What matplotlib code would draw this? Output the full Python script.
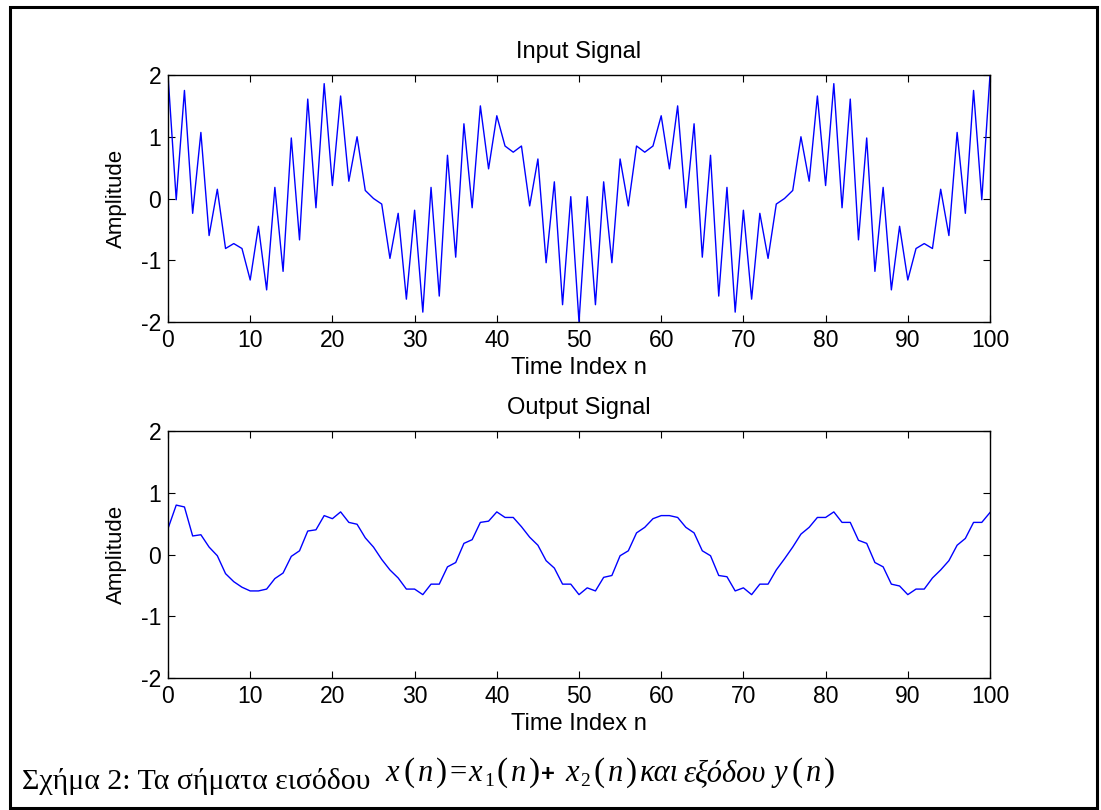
import numpy as np
import matplotlib
matplotlib.use("Agg")
import matplotlib.pyplot as plt
from matplotlib.patches import Rectangle

plt.rcParams["font.family"] = ["Liberation Sans", "DejaVu Sans"]
plt.rcParams["axes.unicode_minus"] = False

# values, n = 0..100
n = np.arange(101)
x_input = [
    2.00, -0.02, 1.75, -0.24, 1.07, -0.60, 0.15, -0.81, -0.73, -0.81,
    -1.32, -0.45, -1.48, 0.18, -1.18, 0.98, -0.67, 1.61, -0.15, 1.86,
    0.21, 1.66, 0.28, 1.00, 0.13, 0.00,
    -0.09, -0.97, -0.24, -1.63, -0.19, -1.84, 0.18, -1.58, 0.70, -0.95,
    1.21, -0.15, 1.50, 0.48, 1.34, 0.85, 0.75, 0.85, -0.12, 0.64,
    -1.04, 0.27, -1.72, 0.03, -2.00,
    0.03, -1.72, 0.27, -1.04, 0.64, -0.12, 0.85, 0.75, 0.85, 1.34,
    0.48, 1.50, -0.15, 1.21, -0.95, 0.70, -1.58, 0.18, -1.84, -0.19,
    -1.63, -0.24, -0.97, -0.09, 0.00,
    0.13, 1.00, 0.28, 1.66, 0.21, 1.86, -0.15, 1.61, -0.67, 0.98,
    -1.18, 0.18, -1.48, -0.45, -1.32, -0.81, -0.73, -0.81, 0.15, -0.60,
    1.07, -0.24, 1.75, -0.02, 2.00,
]
y_output = [
    0.42, 0.80, 0.77, 0.30, 0.32, 0.12, -0.02, -0.31, -0.44, -0.53,
    -0.59, -0.59, -0.56, -0.39, -0.30, -0.03, 0.06, 0.38, 0.40, 0.63,
    0.58, 0.69, 0.52, 0.49, 0.27, 0.12,
    -0.08, -0.25, -0.38, -0.56, -0.56, -0.65, -0.48, -0.48, -0.20, -0.13,
    0.18, 0.24, 0.52, 0.54, 0.69, 0.60, 0.60, 0.45, 0.28, 0.15,
    -0.10, -0.22, -0.48, -0.48, -0.65,
    -0.54, -0.59, -0.37, -0.34, -0.02, 0.06, 0.35, 0.44, 0.58, 0.63,
    0.63, 0.60, 0.44, 0.35, 0.06, -0.02, -0.34, -0.36, -0.59, -0.54,
    -0.65, -0.48, -0.48, -0.25, -0.07,
    0.12, 0.33, 0.44, 0.60, 0.60, 0.69, 0.52, 0.52, 0.23, 0.18,
    -0.13, -0.20, -0.48, -0.51, -0.65, -0.56, -0.56, -0.38, -0.25, -0.10,
    0.15, 0.26, 0.52, 0.52, 0.68,
]
x_ticks = [0, 10, 20, 30, 40, 50, 60, 70, 80, 90, 100]
y_ticks = [-2, -1, 0, 1, 2]

W, H = 1101, 810
fig = plt.figure(figsize=(W / 100, H / 100), dpi=100)

# outer frame
fig.patches.append(Rectangle((10 / W, 2 / H), 1087 / W, 801 / H,
                             transform=fig.transFigure, fill=False,
                             edgecolor="black", linewidth=2.2))


def panel(bottom_px, values, title):
    ax = fig.add_axes([168 / W, (H - bottom_px) / H, 822 / W, 247 / H])
    ax.plot(n, values, color="#0000ff", linewidth=1.0)
    ax.set_xlim(0, 100)
    ax.set_ylim(-2, 2)
    ax.set_xticks(x_ticks)
    ax.set_yticks(y_ticks)
    ax.tick_params(direction="in", length=5, width=0.8, labelsize=16.5,
                   top=True, right=True)
    ax.tick_params(axis="x", pad=5)
    ax.tick_params(axis="y", pad=5)
    for s in ax.spines.values():
        s.set_linewidth(1.0)
    ax.set_title(title, fontsize=17, pad=12)
    ax.set_xlabel("Time Index n", fontsize=17, labelpad=4)
    ax.set_ylabel("Amplitude", fontsize=16, labelpad=10)
    return ax


panel(322, x_input, "Input Signal")
panel(678, y_output, "Output Signal")

# caption
fig.text(22 / W, 1 - 789 / H, "Σχήμα 2: Τα σήματα εισόδου",
         family="Liberation Serif", fontsize=21.5, va="baseline")

renderer = fig.canvas.get_renderer()
# (text, size, raise, gap after, style)  style: i=italic serif, r=upright serif, b=bold sans
pieces = [
    ("x", 22, 0, 5, "i"), ("(", 24, 0, 3, "r"), ("n", 22, 0, 3, "i"),
    (")", 24, 0, 2, "r"), ("=", 22, 0, 2, "r"), ("x", 22, 0, 2, "i"),
    ("1", 14, -5, 3, "r"), ("(", 24, 0, 3, "r"), ("n", 22, 0, 3, "i"),
    (")", 24, 0, 1, "r"), ("+", 17, 0, 10, "b"), ("x", 22, 0, 2, "i"),
    ("2", 14, -5, 3, "r"), ("(", 24, 0, 3, "r"), ("n", 22, 0, 3, "i"),
    (")", 24, 0, 3, "r"), ("και", 22, 0, 4, "i"),
    ("εξόδου", 22, 0, 8, "i"), ("y", 22, 0, 5, "i"), ("(", 24, 0, 3, "r"),
    ("n", 22, 0, 3, "i"), (")", 24, 0, 0, "r"),
]
xpos = 385
base = 781
for txt, size, dy, gap, st in pieces:
    fam = "Liberation Sans" if st == "b" else "Liberation Serif"
    t = fig.text(xpos / W, 1 - (base - dy) / H, txt, family=fam,
                 style="italic" if st == "i" else "normal",
                 weight="bold" if st == "b" else "normal",
                 fontsize=size, va="baseline")
    bb = t.get_window_extent(renderer)
    xpos += bb.width + gap

fig.savefig("out.png", dpi=100)
